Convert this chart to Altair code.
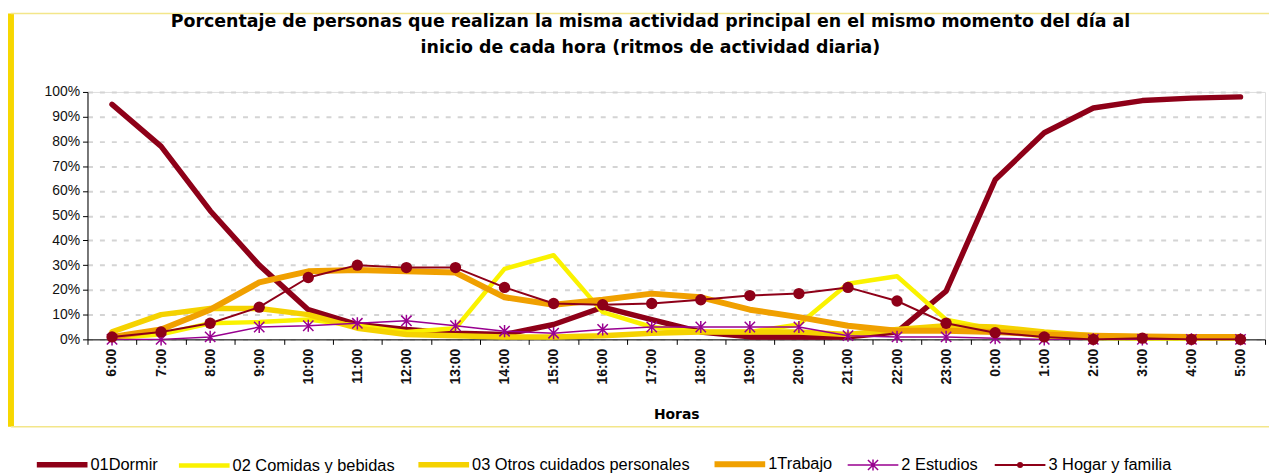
import altair as alt
import pandas as pd

horas = ["6:00", "7:00", "8:00", "9:00", "10:00", "11:00", "12:00", "13:00",
         "14:00", "15:00", "16:00", "17:00", "18:00", "19:00", "20:00", "21:00",
         "22:00", "23:00", "0:00", "1:00", "2:00", "3:00", "4:00", "5:00"]

series = ["01Dormir", "02 Comidas y bebidas", "03 Otros cuidados personales",
          "1Trabajo", "2 Estudios", "3 Hogar y familia"]

dormir = [95, 78, 52, 30, 12, 6, 4, 2.5, 2, 6, 13, 8, 3, 1, 1, 1, 3, 19.5, 64.5, 83.5, 93.5, 96.5, 97.5, 98]
comidas = [0.5, 2, 6.5, 7, 8, 5.5, 3, 4.5, 28.5, 34, 11, 5, 3, 3, 6, 22.5, 25.5, 8, 4, 1, 0.5, 0.3, 0.3, 0.3]
otros = [3, 10, 12.5, 12.5, 10, 4.5, 2, 1.5, 1, 1, 1.5, 2.5, 3, 3, 3, 2, 4, 5.5, 5, 3, 1.5, 1, 1, 1]
trabajo = [1, 4, 12, 23, 27.5, 28, 27.5, 27, 17, 14, 16, 18.5, 17, 12, 9, 5.5, 3.5, 3.5, 3, 2, 1.5, 1.2, 1, 1]
estudios = [0, 0, 1, 5, 5.5, 6.5, 7.5, 5.5, 3.3, 2.5, 4, 5, 5, 5, 5, 1.5, 1, 1, 0.5, 0, 0, 0, 0, 0]
hogar = [1, 3, 6.5, 13, 25, 30, 29, 29, 21, 14.5, 14, 14.5, 16, 17.7, 18.5, 21, 15.5, 6.5, 2.7, 1, 0, 0.5, 0, 0]

valores = [dormir, comidas, otros, trabajo, estudios, hogar]
colores = ["#8E0018", "#FAF200", "#F5D200", "#F0A000", "#990090", "#8E0018"]
grosores = [5.5, 4.5, 5.5, 6, 1.5, 2]

# legend symbols: horizontal line, with marker for the last two
linea = "M-1,0L1,0"
estrella = "M-1,0L1,0M0,-0.22L0,0.22M-0.2,-0.2L0.2,0.2M-0.2,0.2L0.2,-0.2"
circulo = "M-1,0L1,0M0.08,0A0.08,0.08 0 1,1 -0.08,0A0.08,0.08 0 1,1 0.08,0"
formas = [linea, linea, linea, linea, estrella, circulo]

rows = []
for s, vals in zip(series, valores):
    for h, v in zip(horas, vals):
        rows.append({"serie": s, "hora": h, "valor": v / 100.0})
df = pd.DataFrame(rows)

W, H = 1185, 249

x_enc = alt.X("hora:N", sort=horas,
              scale=alt.Scale(paddingInner=0, paddingOuter=0),
              axis=alt.Axis(title="Horas", labelAngle=-90, tickBand="extent",
                            labelFont="Liberation Sans", labelFontSize=14,
                            labelFontWeight="bold", labelColor="#111111",
                            labelPadding=4, tickSize=5, tickColor="#000000",
                            domainColor="#000000", grid=False,
                            titleFont="DejaVu Sans", titleFontSize=14,
                            titleFontWeight="bold", titlePadding=24,
                            titleColor="#000000"))
y_enc = alt.Y("valor:Q", scale=alt.Scale(domain=[0, 1], nice=False),
              axis=alt.Axis(title=None, format=".0%",
                            values=[i / 10 for i in range(11)],
                            labelFont="Liberation Sans", labelFontSize=14,
                            labelColor="#111111", labelPadding=3,
                            tickSize=5, tickColor="#000000", domainColor="#000000",
                            grid=True, gridColor="#D4D4D4", gridDash=[5, 7],
                            gridWidth=2))

base = alt.Chart(df)

layers = []
for s, c, w in zip(series, colores, grosores):
    layers.append(
        base.transform_filter(alt.datum.serie == s)
        .mark_line(color=c, strokeWidth=w, strokeCap="round", strokeJoin="round")
        .encode(x=x_enc, y=y_enc)
    )

star_path = "M0,-1L0,1M-0.85,-0.85L0.85,0.85M-0.85,0.85L0.85,-0.85"
layers.append(
    base.transform_filter(alt.datum.serie == series[4])
    .mark_point(shape=star_path, size=150, filled=False, stroke=colores[4],
                strokeWidth=1.5, opacity=1)
    .encode(x=x_enc, y=y_enc)
)
layers.append(
    base.transform_filter(alt.datum.serie == series[5])
    .mark_circle(size=130, color=colores[5], opacity=1)
    .encode(x=x_enc, y=y_enc)
)

leg = alt.Legend(title=None, orient="none", legendX=-54, legendY=346,
                 direction="horizontal", columns=6, symbolSize=2601,
                 labelFont="Liberation Sans", labelFontSize=16.5,
                 labelColor="#000000", labelOffset=0, columnPadding=12,
                 labelLimit=400)
layers.append(
    base.transform_filter(alt.datum.valor < -5)
    .mark_point(filled=True, opacity=1)
    .encode(
        x=x_enc, y=y_enc,
        fill=alt.Fill("serie:N", scale=alt.Scale(domain=series, range=colores), legend=leg),
        stroke=alt.Stroke("serie:N", scale=alt.Scale(domain=series, range=colores), legend=leg),
        shape=alt.Shape("serie:N", scale=alt.Scale(domain=series, range=formas), legend=leg),
        strokeWidth=alt.StrokeWidth("serie:N", scale=alt.Scale(type="ordinal", domain=series, range=grosores), legend=leg),
    )
)

one = pd.DataFrame({"k": [0]})
frame_left = alt.Chart(one).mark_rule(color="#F7D700", strokeWidth=6).encode(
    x=alt.value(-77), y=alt.value(-79), y2=alt.value(337))
frame_top = alt.Chart(one).mark_rule(color="#F3E68A", strokeWidth=1.5).encode(
    x=alt.value(-77), x2=alt.value(1200), y=alt.value(-79))
frame_bottom = alt.Chart(one).mark_rule(color="#F3E68A", strokeWidth=1.5).encode(
    x=alt.value(-77), x2=alt.value(1200), y=alt.value(337))

chart = alt.layer(frame_left, frame_top, frame_bottom, *layers).properties(
    width=W, height=H,
    autosize=alt.AutoSizeParams(type="none"),
    padding={"left": 80, "top": 83, "right": 4, "bottom": 133},
    title=alt.Title(
        text=["Porcentaje de personas que realizan la misma actividad principal en el mismo momento del día al",
              "inicio de cada hora (ritmos de actividad diaria)"],
        font="DejaVu Sans", fontSize=17.5, fontWeight="bold", color="#000000",
        anchor="middle", frame="group", dx=-26, offset=-46, lineHeight=26),
).configure_view(stroke=None).configure(background="#FFFFFF")

chart.save("out.html", embed_options={"renderer": "svg", "actions": False})
